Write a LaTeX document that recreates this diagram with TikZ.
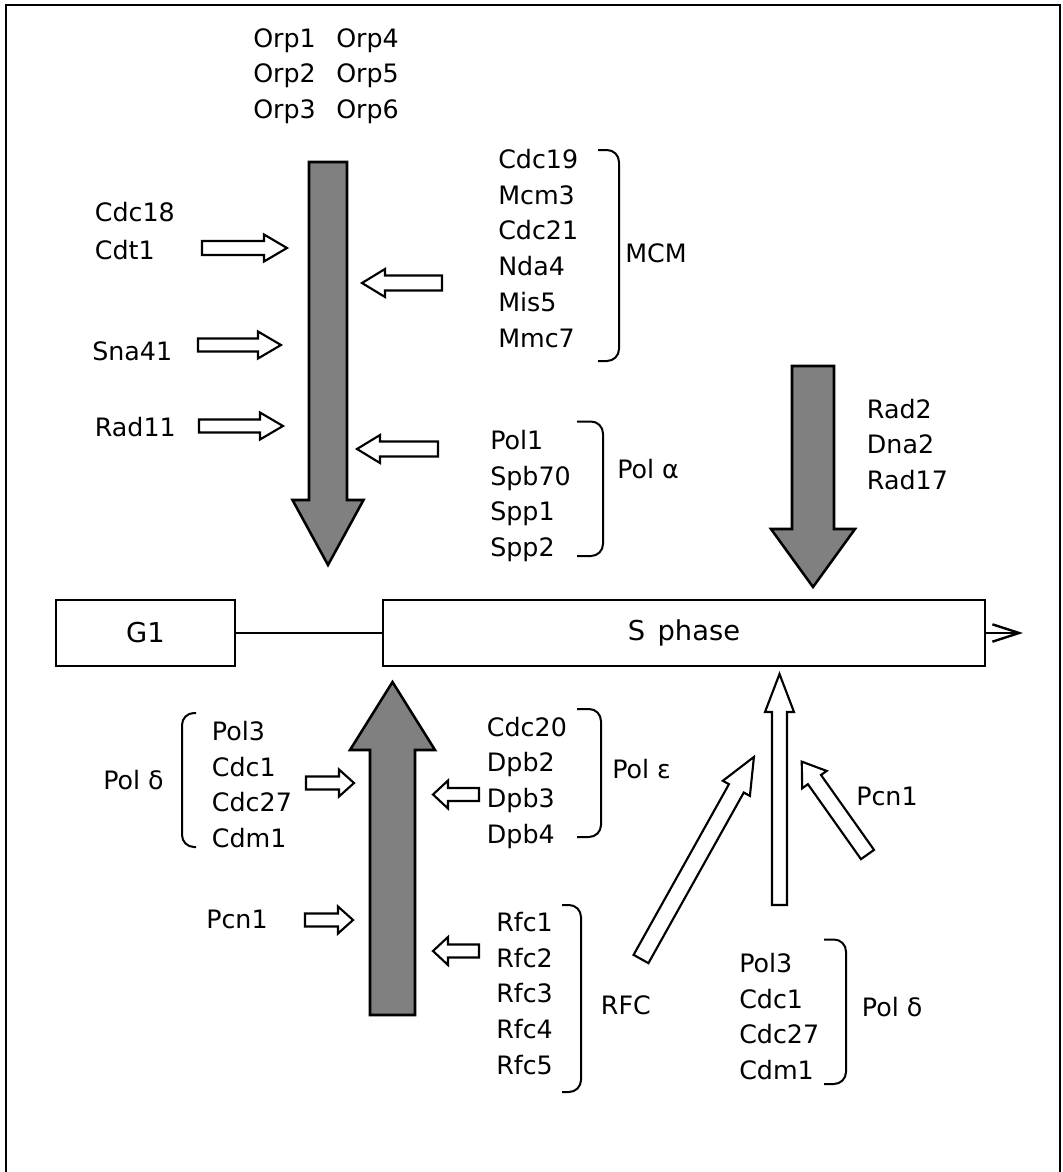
\documentclass[tikz,border=0pt]{standalone}
\usepackage{fontspec}
\setmainfont{DejaVu Sans}
\usetikzlibrary{arrows.meta}
\newcommand\blockarr[7]{%
  \begin{scope}[shift={#2},rotate=#3]
    \path[#1] (0,-#5) -- ({#4-#7},-#5) -- ({#4-#7},-#6) -- (#4,0) -- ({#4-#7},#6) -- ({#4-#7},#5) -- (0,#5) -- cycle;
  \end{scope}}
\tikzset{
  lbl/.style={anchor=north west, inner sep=0pt, align=left, font=\fontsize{19}{26.8}\selectfont},
  brk/.style={line width=1.5pt, rounded corners=9pt},
  bigarr/.style={draw, line width=1.9pt, fill=black!50, line join=miter},
  hollow/.style={draw, line width=1.6pt, fill=white, line join=miter},
  phasebox/.style={draw, line width=1.8pt, minimum height=49.5pt, inner sep=0pt, font=\fontsize{20.5}{24}\selectfont},
}
\begin{document}
\begin{tikzpicture}[x=0.75pt,y=-0.75pt]
\useasboundingbox (0,0) rectangle (1063,1172);
% frame
\draw[line width=2pt] (6,1172) -- (6,5) -- (1060,5) -- (1060,1172);

% phase boxes
\node[phasebox, minimum width=134pt] (g1) at (145.5,633) {G1};
\node[phasebox, minimum width=451.5pt] (sph) at (684,633) {S\hspace{0.45em}phase};
\coordinate (send) at (1023,633);
\draw[line width=1.3pt] (g1.east) -- (sph.west);
\draw[line width=1.4pt, -{Straight Barb[length=20pt,width=13pt,line width=1.8pt]}] (sph.east) -- (send);

% big arrows
\blockarr{bigarr}{(328,162)}{-90}{403}{19}{35.5}{65}
\blockarr{bigarr}{(813,366)}{-90}{221}{21}{42}{58}
\blockarr{bigarr}{(392.5,1015)}{90}{333}{22.5}{42.5}{68}

% small hollow arrows, top
\blockarr{hollow}{(202,248)}{0}{85}{7}{13.5}{23}
\blockarr{hollow}{(198,345)}{0}{83}{6.5}{13.5}{23}
\blockarr{hollow}{(199,426)}{0}{84}{6.5}{13.5}{23}
\blockarr{hollow}{(442,283)}{180}{80}{7.5}{14}{23}
\blockarr{hollow}{(438,449)}{180}{81}{7.5}{14}{23}
% small hollow arrows, bottom
\blockarr{hollow}{(306,783)}{0}{48}{6.5}{13.5}{15}
\blockarr{hollow}{(305,920)}{0}{48}{6.5}{13.5}{15}
\blockarr{hollow}{(479,794.5)}{180}{46}{6.5}{14}{15}
\blockarr{hollow}{(479,951)}{180}{46}{6.5}{14}{15}
% long hollow arrows
\blockarr{hollow}{(779.5,905)}{90}{231}{7.5}{14.5}{38}
\blockarr{hollow}{(641,959)}{60.8}{231.5}{8.5}{15.5}{36}
\blockarr{hollow}{(867.5,854.5)}{125.3}{113.8}{8}{15}{22}

% labels
\node[lbl] (orpa) at (253,28) {Orp1\\Orp2\\Orp3};
\node[lbl] (orpb) at (336,28) {Orp4\\Orp5\\Orp6};
\node[lbl, font=\fontsize{19}{28.2}\selectfont] (cdc18) at (94.6,202) {Cdc18\\Cdt1};
\node[lbl] (sna41) at (92,341) {Sna41};
\node[lbl] (rad11) at (94.6,417) {Rad11};
\node[lbl] (mcml) at (498,149) {Cdc19\\Mcm3\\Cdc21\\Nda4\\Mis5\\Mmc7};
\node[lbl] (mcm) at (625,243) {MCM};
\node[lbl] (polal) at (490,430) {Pol1\\Spb70\\Spp1\\Spp2};
\node[lbl] (pola) at (617,459) {Pol α};
\node[lbl] (rad2) at (866.7,398.5) {Rad2\\Dna2\\Rad17};
\node[lbl] (poldl) at (211.7,721) {Pol3\\Cdc1\\Cdc27\\Cdm1};
\node[lbl] (pold) at (103,770) {Pol δ};
\node[lbl] (pcna) at (206,910) {Pcn1};
\node[lbl] (polel) at (486.7,716.5) {Cdc20\\Dpb2\\Dpb3\\Dpb4};
\node[lbl] (pole) at (612,759) {Pol ε};
\node[lbl] (rfcl) at (496,912) {Rfc1\\Rfc2\\Rfc3\\Rfc4\\Rfc5};
\node[lbl] (rfc) at (600.7,995.5) {RFC};
\node[lbl] (poldbl) at (739,953) {Pol3\\Cdc1\\Cdc27\\Cdm1};
\node[lbl] (poldb) at (861.6,997) {Pol δ};
\node[lbl] (pcnb) at (856,786.5) {Pcn1};

% brackets
\draw[brk] (598,150) -- (619,150) -- (619,361) -- (598,361);
\draw[brk] (577,421.5) -- (603,421.5) -- (603,556) -- (577,556);
\draw[brk] (196,713) -- (182,713) -- (182,847) -- (196,847);
\draw[brk] (577,709) -- (601,709) -- (601,837) -- (577,837);
\draw[brk] (562,905) -- (581,905) -- (581,1092) -- (562,1092);
\draw[brk] (824,939.5) -- (846,939.5) -- (846,1084) -- (824,1084);
\end{tikzpicture}
\end{document}
